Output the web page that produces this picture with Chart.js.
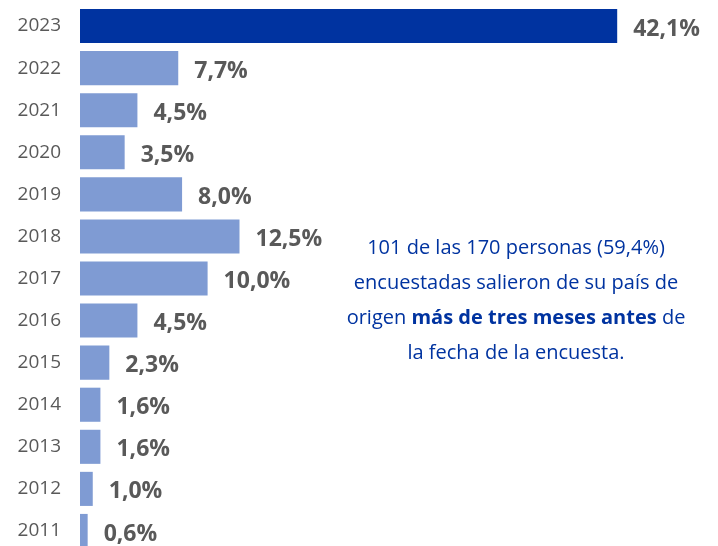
<!DOCTYPE html>
<html>
<head>
<meta charset="utf-8">
<script src="https://cdn.jsdelivr.net/npm/chart.js@4"></script>
<style>
    html, body { margin: 0; padding: 0; background: #fff; overflow: hidden; }
    canvas { display: block; }
</style>
</head>
<body>
<canvas id="yearsChart" width="718" height="552"></canvas>
<script>
const years = ['2023', '2022', '2021', '2020', '2019', '2018', '2017', '2016', '2015', '2014', '2013', '2012', '2011'];
const shares = [42.1, 7.7, 4.5, 3.5, 8.0, 12.5, 10.0, 4.5, 2.3, 1.6, 1.6, 1.0, 0.6];
const noteLines = [
    [['101 de las 170 personas (59,4%)', false]],
    [['encuestadas salieron de su país de', false]],
    [['origen ', false], ['más de tres meses antes', true], [' de', false]],
    [['la fecha de la encuesta.', false]]
];

const darkBlue = '#0033A0';
const lightBlue = '#7F9BD3';
const grey = '#595959';
const fontFamily = "'Open Sans', sans-serif";

// Percent labels to the right of each bar
const valueLabels = {
    id: 'valueLabels',
    afterDatasetsDraw(chart) {
        const ctx = chart.ctx;
        const meta = chart.getDatasetMeta(0);
        ctx.save();
        ctx.font = `bold 23px ${fontFamily}`;
        ctx.fillStyle = grey;
        ctx.textAlign = 'left';
        ctx.textBaseline = 'middle';
        meta.data.forEach((bar, i) => {
            const txt = shares[i].toFixed(1).replace('.', ',') + '%';
            ctx.fillText(txt, bar.x + 16, bar.y + 3);
        });
        ctx.restore();
    }
};

// Blue note on the right side
const sideNote = {
    id: 'sideNote',
    afterDraw(chart) {
        const ctx = chart.ctx;
        const cx = 516;
        let y = 248;
        ctx.save();
        ctx.fillStyle = darkBlue;
        ctx.textBaseline = 'middle';
        ctx.textAlign = 'left';
        noteLines.forEach(parts => {
            let total = 0;
            parts.forEach(([t, b]) => {
                ctx.font = `${b ? 'bold ' : ''}20px ${fontFamily}`;
                total += ctx.measureText(t).width;
            });
            let x = cx - total / 2;
            parts.forEach(([t, b]) => {
                ctx.font = `${b ? 'bold ' : ''}20px ${fontFamily}`;
                ctx.fillText(t, x, y);
                x += ctx.measureText(t).width;
            });
            y += 35;
        });
        ctx.restore();
    }
};

const ctx = document.getElementById('yearsChart').getContext('2d');
new Chart(ctx, {
    type: 'bar',
    data: {
        labels: years,
        datasets: [{
            data: shares,
            backgroundColor: years.map((y, i) => i === 0 ? darkBlue : lightBlue),
            borderWidth: 0,
            categoryPercentage: 1,
            barPercentage: 0.81
        }]
    },
    options: {
        indexAxis: 'y',
        responsive: false,
        animation: false,
        layout: { padding: { top: 5, bottom: 0, left: 0, right: 0 } },
        plugins: {
            legend: { display: false },
            tooltip: { enabled: false }
        },
        scales: {
            x: {
                display: false,
                min: 0,
                max: 50
            },
            y: {
                grid: { display: false, drawTicks: false },
                border: { display: false },
                ticks: {
                    color: grey,
                    padding: 19,
                    font: { family: fontFamily, size: 19 }
                },
                afterFit(scale) {
                    scale.width = 80;
                    scale.paddingTop = 0;
                    scale.paddingBottom = 0;
                }
            }
        }
    },
    plugins: [valueLabels, sideNote]
});
</script>
</body>
</html>
